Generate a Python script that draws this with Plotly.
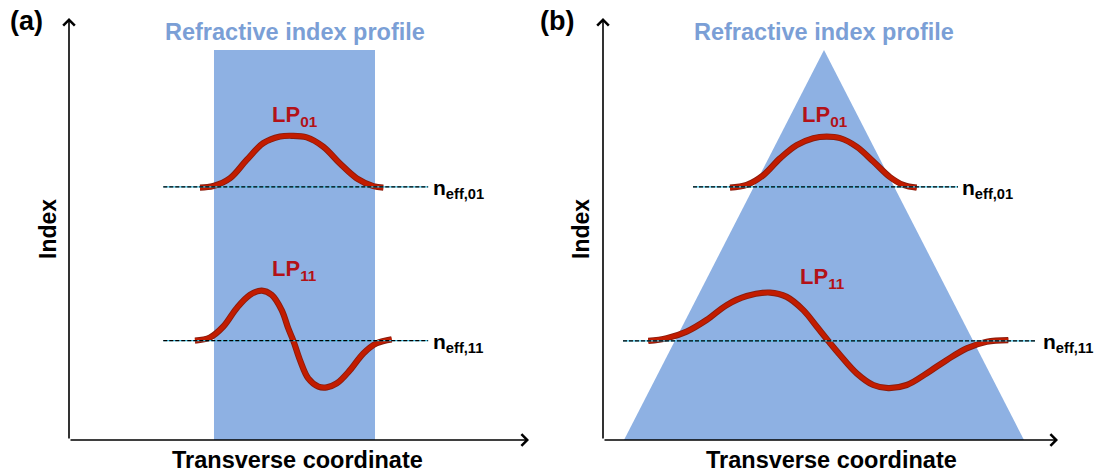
import plotly.graph_objects as go

W, H = 1099, 474

# ---------------- panel (a): step-index fibre ----------------
# core occupies |x| <= 1, index normalised so the core top is 1
core_x = [-1.0, -1.0, 1.0, 1.0]
core_n = [0.0, 1.0, 1.0, 0.0]

neff_a01 = 0.649
neff_a11 = 0.255
neff_a_line = [-1.63, 1.66]

lp01_a_x = [-1.174, -1.009, -0.801, -0.594, -0.388, -0.180, -0.035, 0.152,
            0.358, 0.565, 0.773, 0.979, 1.103]
lp01_a_n = [0.647, 0.651, 0.671, 0.718, 0.761, 0.778, 0.780, 0.776,
            0.752, 0.709, 0.671, 0.651, 0.647]

lp11_a_x = [-1.236, -1.050, -0.884, -0.718, -0.553, -0.407, -0.283, -0.159,
            -0.077, -0.015, 0.068, 0.171, 0.296, 0.400, 0.524, 0.689,
            0.855, 1.021, 1.207]
lp11_a_n = [0.255, 0.263, 0.291, 0.338, 0.372, 0.383, 0.372, 0.333,
            0.286, 0.255, 0.205, 0.158, 0.137, 0.135, 0.145, 0.179,
            0.222, 0.248, 0.258]

# ---------------- panel (b): graded-index (triangular) fibre ----------------
tri_x = [-2.0, 0.0, 2.0]
tri_n = [0.0, 1.0, 0.0]

neff_b01 = 0.649
neff_b11 = 0.254
neff_b01_line = [-1.31, 1.34]
neff_b11_line = [-2.01, 2.11]

lp01_b_x = [-0.94, -0.773, -0.607, -0.44, -0.273, -0.107, 0.027, 0.16,
            0.327, 0.493, 0.66, 0.793, 0.927]
lp01_b_n = [0.647, 0.654, 0.679, 0.722, 0.756, 0.774, 0.778, 0.774,
            0.752, 0.714, 0.674, 0.654, 0.647]

lp11_b_x = [-1.757, -1.573, -1.373, -1.173, -0.973, -0.773, -0.54, -0.373,
            -0.207, -0.073, 0.043, 0.16, 0.327, 0.493, 0.643, 0.827,
            1.027, 1.227, 1.427, 1.627, 1.843]
lp11_b_n = [0.254, 0.261, 0.278, 0.308, 0.346, 0.369, 0.378, 0.367,
            0.333, 0.291, 0.254, 0.218, 0.171, 0.141, 0.133, 0.141,
            0.171, 0.205, 0.235, 0.252, 0.256]

# axis extents (data units) and placement on the page
xa_range = [-2.801, 2.913]
xb_range = [-2.21, 2.34]
n_range = [0.0, 1.082]

FONT = "Liberation Sans, Arial, sans-serif"
PROFILE_BLUE = "#8eb1e3"
TITLE_BLUE = "#7b9fd6"
MODE_RED = "#c21c00"
MODE_EDGE = "#8a1c0c"
LABEL_RED = "#b31217"

fig = go.Figure()


def add_panel(xref, yref, prof_x, prof_n, modes, neff_lines):
    fig.add_trace(go.Scatter(x=prof_x, y=prof_n, mode="lines", fill="toself",
                             fillcolor=PROFILE_BLUE, line=dict(width=0),
                             xaxis=xref, yaxis=yref, hoverinfo="skip"))
    for mx, my in modes:
        fig.add_trace(go.Scatter(x=mx, y=my, mode="lines",
                                 line=dict(color=MODE_EDGE, width=6.2, shape="spline"),
                                 xaxis=xref, yaxis=yref, hoverinfo="skip"))
        fig.add_trace(go.Scatter(x=mx, y=my, mode="lines",
                                 line=dict(color=MODE_RED, width=4.4, shape="spline"),
                                 xaxis=xref, yaxis=yref, hoverinfo="skip"))
    for lx, n in neff_lines:
        fig.add_trace(go.Scatter(x=lx, y=[n, n], mode="lines",
                                 line=dict(color="#3fc4e8", width=1.2),
                                 xaxis=xref, yaxis=yref, hoverinfo="skip"))
        fig.add_trace(go.Scatter(x=lx, y=[n, n], mode="lines",
                                 line=dict(color="black", width=1.2, dash="4px,2px"),
                                 xaxis=xref, yaxis=yref, hoverinfo="skip"))


add_panel("x", "y", core_x, core_n,
          [(lp01_a_x, lp01_a_n), (lp11_a_x, lp11_a_n)],
          [(neff_a_line, neff_a01), (neff_a_line, neff_a11)])
add_panel("x2", "y2", tri_x, tri_n,
          [(lp01_b_x, lp01_b_n), (lp11_b_x, lp11_b_n)],
          [(neff_b01_line, neff_b01), (neff_b11_line, neff_b11)])

annotations = []

# axis arrows
for xr, yr, rng in (("x", "y", xa_range), ("x2", "y2", xb_range)):
    annotations.append(dict(x=rng[1], y=n_range[0], ax=rng[0], ay=n_range[0],
                            xref=xr, yref=yr, axref=xr, ayref=yr, text="",
                            showarrow=True, arrowhead=4, arrowsize=1.4,
                            arrowwidth=1.6, arrowcolor="black"))
    annotations.append(dict(x=rng[0], y=n_range[1], ax=rng[0], ay=n_range[0],
                            xref=xr, yref=yr, axref=xr, ayref=yr, text="",
                            showarrow=True, arrowhead=4, arrowsize=1.4,
                            arrowwidth=1.6, arrowcolor="black"))

bold = dict(family=FONT, weight=700)


def page_text(text, px, py, size, color="black", angle=0):
    annotations.append(dict(text=text, x=px / W, y=1 - py / H, xref="paper",
                            yref="paper", showarrow=False, textangle=angle,
                            xanchor="center", yanchor="middle",
                            font=dict(size=size, color=color, **bold)))


page_text("(a)", 26, 21, 27)
page_text("(b)", 557, 21, 27)
page_text("Refractive index profile", 295, 32, 23.5, TITLE_BLUE)
page_text("Refractive index profile", 824, 32, 23.5, TITLE_BLUE)
page_text("Index", 48, 229, 23, angle=-90)
page_text("Index", 581, 229, 23, angle=-90)
page_text("Transverse coordinate", 297, 460, 23.5)
page_text("Transverse coordinate", 831, 460, 23.5)


def data_text(text, x, y, xr, yr, color, size=21, xanchor="left"):
    annotations.append(dict(text=text, x=x, y=y, xref=xr, yref=yr,
                            showarrow=False, xanchor=xanchor, yanchor="middle",
                            font=dict(size=size, color=color, **bold)))


# mode names
data_text("LP<sub>01</sub>", -0.31, 0.83, "x", "y", LABEL_RED, 22)
data_text("LP<sub>11</sub>", -0.31, 0.435, "x", "y", LABEL_RED, 22)
data_text("LP<sub>01</sub>", -0.24, 0.83, "x2", "y2", LABEL_RED, 22)
data_text("LP<sub>11</sub>", -0.26, 0.415, "x2", "y2", LABEL_RED, 22)

# effective indices
data_text("n<sub>eff,01</sub>", neff_a_line[1] + 0.03, neff_a01 - 0.005, "x", "y", "black")
data_text("n<sub>eff,11</sub>", neff_a_line[1] + 0.03, neff_a11 - 0.005, "x", "y", "black")
data_text("n<sub>eff,01</sub>", neff_b01_line[1] + 0.02, neff_b01 - 0.005, "x2", "y2", "black")
data_text("n<sub>eff,11</sub>", neff_b11_line[1] + 0.06, neff_b11 - 0.005, "x2", "y2", "black")

hidden = dict(showgrid=False, zeroline=False, showticklabels=False,
              showline=False, ticks="", fixedrange=True)
y_dom = [1 - 440 / H, 1 - 18 / H]

fig.update_layout(
    width=W, height=H,
    margin=dict(l=0, r=0, t=0, b=0, pad=0),
    paper_bgcolor="white", plot_bgcolor="white",
    showlegend=False,
    xaxis=dict(domain=[69 / W, 529 / W], range=xa_range, **hidden),
    yaxis=dict(domain=y_dom, range=n_range, **hidden),
    xaxis2=dict(domain=[603 / W, 1058 / W], range=xb_range, anchor="y2", **hidden),
    yaxis2=dict(domain=y_dom, range=n_range, anchor="x2", **hidden),
    annotations=annotations,
)

fig.write_html("out.html")
